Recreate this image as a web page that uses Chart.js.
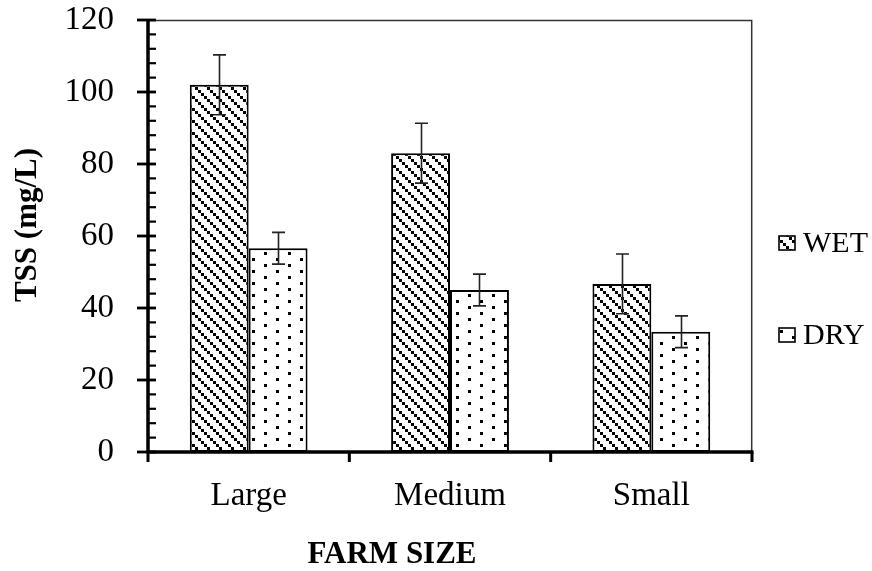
<!DOCTYPE html>
<html><head><meta charset="utf-8">
<script src="https://cdn.jsdelivr.net/npm/chart.js@4"></script>
<style>html,body{margin:0;padding:0;background:#fff;overflow:hidden}</style>
</head><body>
<canvas id="c" width="872" height="571"></canvas>
<script>
// ---- data ----
const categories = ['Large', 'Medium', 'Small'];
const seriesNames = ['WET', 'DRY'];
const wetValues = [102, 83, 46.7];
const dryValues = [56.6, 45, 33.4];
const wetErrors = [8.3, 8.3, 8.3];
const dryErrors = [4.4, 4.4, 4.4];
const yTickMin = 0, yTickMax = 120, yTickStep = 20, yMinorStep = 4;
const yTitle = 'TSS (mg/L)';
const xTitle = 'FARM SIZE';

const FONT = "'Liberation Serif', 'Times New Roman', serif";

function makePattern(size, w, h, cells) {
  const t = document.createElement('canvas');
  t.width = w; t.height = h;
  const g = t.getContext('2d');
  g.fillStyle = '#fff'; g.fillRect(0, 0, w, h);
  g.fillStyle = '#000';
  cells.forEach(([cx, cy]) => g.fillRect(cx, cy, size, size));
  return g.createPattern(t, 'repeat');
}
const wetPattern = makePattern(3, 12, 12, [[0,0],[3,3],[6,6],[9,9]]);
const dryPattern = makePattern(3, 24, 24, [[0,0],[12,6],[0,12],[12,18]]);

const errorsBySeries = [wetErrors, dryErrors];

const decor = {
  id: 'decor',
  afterDatasetsDraw(chart) {
    const {ctx, chartArea: a, scales: {x, y}} = chart;
    ctx.save();
    // error bars
    ctx.strokeStyle = '#222';
    ctx.lineWidth = 1.6;
    chart.data.datasets.forEach((ds, di) => {
      const meta = chart.getDatasetMeta(di);
      meta.data.forEach((bar, j) => {
        const v = ds.data[j], e = errorsBySeries[di][j];
        const top = y.getPixelForValue(v + e), bot = y.getPixelForValue(v - e);
        const cx = Math.round(bar.x) + 0.5;
        ctx.beginPath();
        ctx.moveTo(cx, top); ctx.lineTo(cx, bot);
        ctx.moveTo(cx - 6.5, top); ctx.lineTo(cx + 6.5, top);
        ctx.moveTo(cx - 6.5, bot); ctx.lineTo(cx + 6.5, bot);
        ctx.stroke();
      });
    });
    // frame (top & right)
    ctx.strokeStyle = '#333';
    ctx.lineWidth = 1.5;
    ctx.beginPath();
    ctx.moveTo(a.left, a.top + 0.5);
    ctx.lineTo(a.right - 0.3, a.top + 0.5);
    ctx.lineTo(a.right - 0.3, a.bottom);
    ctx.stroke();
    // axes
    ctx.strokeStyle = '#000';
    ctx.lineWidth = 3.5;
    ctx.beginPath();
    ctx.moveTo(a.left, a.top - 1);
    ctx.lineTo(a.left, a.bottom + 1.5);
    ctx.moveTo(a.left - 1.5, a.bottom);
    ctx.lineTo(a.right + 1.5, a.bottom);
    ctx.stroke();
    // y ticks
    for (let v = yTickMin; v <= yTickMax + 1e-9; v += yMinorStep) {
      const py = y.getPixelForValue(v);
      ctx.beginPath();
      if (v % yTickStep === 0) {
        ctx.lineWidth = 2.8;
        ctx.moveTo(a.left - 11, py); ctx.lineTo(a.left + 8, py);
      } else {
        ctx.lineWidth = 2.2;
        ctx.moveTo(a.left, py); ctx.lineTo(a.left + 8, py);
      }
      ctx.stroke();
    }
    // x ticks at category boundaries
    ctx.lineWidth = 3;
    for (let i = 0; i <= categories.length; i++) {
      const px = x.getPixelForValue(i - 0.5);
      ctx.beginPath();
      ctx.moveTo(px, a.bottom); ctx.lineTo(px, a.bottom + 10);
      ctx.stroke();
    }
    ctx.restore();
  },
  afterDraw(chart) {
    const {ctx} = chart;
    ctx.save();
    // legend
    const pos = [243, 335];
    chart.data.datasets.forEach((ds, i) => {
      const cy = pos[i];
      ctx.fillStyle = ds.backgroundColor;
      ctx.fillRect(779, cy - 7, 16, 14);
      ctx.strokeStyle = '#000';
      ctx.lineWidth = 1.6;
      ctx.strokeRect(779, cy - 7, 16, 14);
      ctx.fillStyle = '#000';
      ctx.font = '30px ' + FONT;
      ctx.textBaseline = 'middle';
      ctx.textAlign = 'left';
      ctx.fillText(ds.label, 803, cy + 1);
    });
    // axis titles
    ctx.fillStyle = '#000';
    ctx.font = 'bold 31px ' + FONT;
    ctx.textAlign = 'center';
    ctx.textBaseline = 'alphabetic';
    ctx.fillText(xTitle, 392, 563);
    ctx.translate(36, 225);
    ctx.rotate(-Math.PI / 2);
    ctx.fillText(yTitle, 0, 0);
    ctx.restore();
  }
};

new Chart(document.getElementById('c'), {
  type: 'bar',
  data: {
    labels: categories,
    datasets: [
      {label: seriesNames[0], data: wetValues, backgroundColor: wetPattern, borderColor: '#000', borderWidth: 2, borderSkipped: false},
      {label: seriesNames[1], data: dryValues, backgroundColor: dryPattern, borderColor: '#000', borderWidth: 2, borderSkipped: false}
    ]
  },
  options: {
    responsive: false,
    animation: false,
    devicePixelRatio: 1,
    layout: {padding: {top: 20, right: 120, bottom: 0, left: 0}},
    datasets: {bar: {categoryPercentage: 0.585, barPercentage: 1}},
    plugins: {legend: {display: false}, tooltip: {enabled: false}},
    scales: {
      x: {
        grid: {display: false, drawTicks: false},
        border: {display: false},
        ticks: {font: {family: FONT, size: 33}, color: '#000', padding: 25},
        afterFit: s => { s.height = 119; s.paddingLeft = 0; s.paddingRight = 0; }
      },
      y: {
        min: yTickMin, max: yTickMax,
        grid: {display: false, drawTicks: false},
        border: {display: false},
        ticks: {stepSize: yTickStep, font: {family: FONT, size: 33}, color: '#000', padding: 34},
        afterFit: s => { s.width = 148; s.paddingTop = 0; s.paddingBottom = 0; }
      }
    }
  },
  plugins: [decor]
});
</script>
</body></html>
